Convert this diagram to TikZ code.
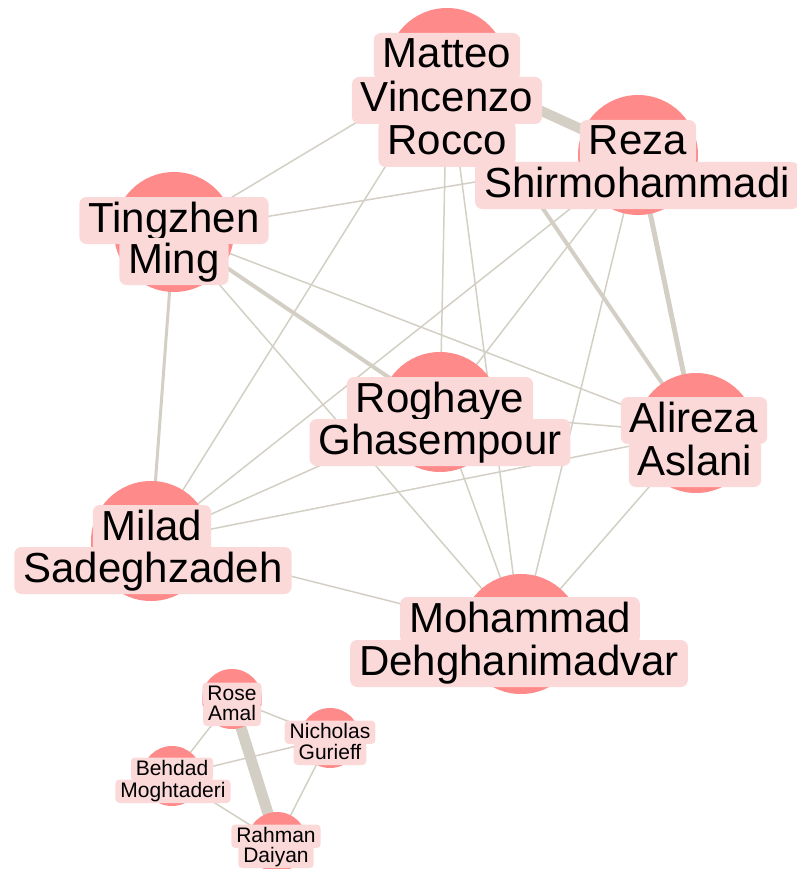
\documentclass[tikz,border=0pt]{standalone}
\usepackage{fontspec}
\setmainfont{Liberation Sans}
\usepackage{tikz}
\usetikzlibrary{backgrounds}
\definecolor{nodered}{RGB}{255,138,138}
\definecolor{halo}{RGB}{251,217,217}
\definecolor{edgegray}{RGB}{211,207,197}

\begin{document}
\begin{tikzpicture}[
  x=1pt, y=-1pt,
  big/.style   = {circle, fill=nodered, minimum size=120pt, inner sep=0pt},
  small/.style = {circle, fill=nodered, minimum size=60pt, inner sep=0pt},
  lbl/.style   = {fill=halo, rounded corners=7pt, anchor=base, inner xsep=9pt, inner ysep=3pt,
                  text height=32pt, text depth=9pt, font=\fontsize{42}{43}\selectfont},
  slbl/.style  = {lbl, rounded corners=4pt, inner xsep=5pt, inner ysep=1.5pt,
                  text height=16pt, text depth=4.5pt, font=\fontsize{21}{21}\selectfont},
  link/.style  = {draw=edgegray, line width=1.5pt},
]
\useasboundingbox (0,0) rectangle (796,869);

% main group
\node[big] (mat) at (447,68)  {};
\node[big] (rez) at (638,155) {};
\node[big] (tin) at (174,232) {};
\node[big] (rog) at (440,412) {};
\node[big] (ali) at (696,433) {};
\node[big] (mil) at (151,541) {};
\node[big] (moh) at (521,634) {};

\node[lbl] (mat1) at (447,68)  {Matteo};
\node[lbl] (mat2) at (447,112) {Vincenzo};
\node[lbl] (mat3) at (447,155) {Rocco};
\node[lbl] (rez1) at (638,155) {Reza};
\node[lbl] (rez2) at (637,197) {Shirmohammadi};
\node[lbl] (tin1) at (174,232) {Tingzhen};
\node[lbl] (tin2) at (174,273) {Ming};
\node[lbl] (rog1) at (440,412) {Roghaye};
\node[lbl] (rog2) at (440,454) {Ghasempour};
\node[lbl] (ali1) at (694,432) {Alireza};
\node[lbl] (ali2) at (695,475) {Aslani};
\node[lbl] (mil1) at (152,540) {Milad};
\node[lbl] (mil2) at (153,582) {Sadeghzadeh};
\node[lbl] (moh1) at (520,632) {Mohammad};
\node[lbl] (moh2) at (519,675) {Dehghanimadvar};

% small group
\node[small] (ros) at (232,699) {};
\node[small] (nic) at (330,738) {};
\node[small] (beh) at (172,776) {};
\node[small] (rah) at (277,842) {};

\node[slbl] (ros1) at (232,700) {Rose};
\node[slbl] (ros2) at (232,720) {Amal};
\node[slbl] (nic1) at (330,738) {Nicholas};
\node[slbl] (nic2) at (330,759) {Gurieff};
\node[slbl] (beh1) at (172,775) {Behdad};
\node[slbl] (beh2) at (173,797) {Moghtaderi};
\node[slbl] (rah1) at (276,842) {Rahman};
\node[slbl] (rah2) at (276,862) {Daiyan};

\begin{scope}[on background layer]
\draw[link, line width=10pt] (mat.center)--(rez.center);
\draw[link, line width=4pt] (mat.center)--(ali.center);
\draw[link, line width=5pt] (rez.center)--(ali.center);
\draw[link, line width=4pt] (tin.center)--(rog.center);
\draw[link, line width=3pt] (tin.center)--(mil.center);
\draw[link] (tin.center)--(mat.center); \draw[link] (tin.center)--(rez.center);
\draw[link] (tin.center)--(ali.center); \draw[link] (tin.center)--(moh.center);
\draw[link] (mat.center)--(rog.center); \draw[link] (mat.center)--(mil.center);
\draw[link] (mat.center)--(moh.center);
\draw[link] (rez.center)--(rog.center); \draw[link] (rez.center)--(mil.center);
\draw[link] (rez.center)--(moh.center);
\draw[link] (rog.center)--(ali.center); \draw[link] (rog.center)--(mil.center);
\draw[link] (rog.center)--(moh.center);
\draw[link] (ali.center)--(mil.center); \draw[link] (ali.center)--(moh.center);
\draw[link] (mil.center)--(moh.center);
\draw[link, line width=11pt] (ros.center)--(rah.center);
\draw[link] (ros.center)--(nic.center); \draw[link] (ros.center)--(beh.center);
\draw[link] (beh.center)--(nic.center); \draw[link] (beh.center)--(rah.center);
\draw[link] (nic.center)--(rah.center);
\end{scope}
\end{tikzpicture}
\end{document}
